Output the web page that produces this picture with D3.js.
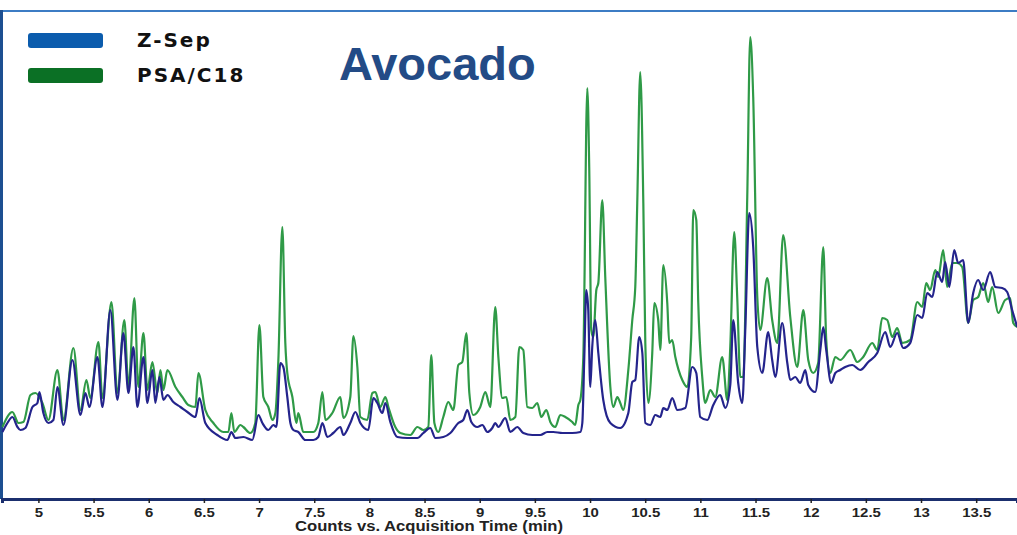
<!DOCTYPE html>
<html>
<head>
<meta charset="utf-8">
<script src="https://cdn.jsdelivr.net/npm/d3@7"></script>
<style>
  body { margin: 0; background: #fff; }
  svg { display: block; }
</style>
</head>
<body>
<svg width="1017" height="535"></svg>
<script>
// Data (retention time in min, counts)
var zsepTime = [4.674,4.719,4.764,4.810,4.837,4.882,4.946,4.991,5.009,5.045,5.091,5.136,5.172,5.227,5.308,5.381,5.426,5.462,5.535,5.580,5.652,5.716,5.770,5.816,5.861,5.897,5.952,5.988,6.033,6.060,6.097,6.133,6.169,6.223,6.287,6.350,6.423,6.459,6.513,6.622,6.713,6.749,6.785,6.858,6.939,6.994,7.030,7.084,7.130,7.157,7.193,7.220,7.256,7.284,7.311,7.356,7.420,7.492,7.537,7.574,7.619,7.673,7.737,7.764,7.827,7.873,7.918,7.990,8.036,8.072,8.117,8.145,8.190,8.253,8.344,8.435,8.489,8.552,8.598,8.670,8.734,8.806,8.851,8.888,8.924,8.978,9.024,9.069,9.114,9.141,9.169,9.232,9.277,9.341,9.395,9.477,9.549,9.613,9.667,9.749,9.839,9.912,9.930,9.948,9.966,9.984,10.002,10.020,10.047,10.075,10.120,10.184,10.274,10.347,10.383,10.410,10.446,10.474,10.501,10.546,10.591,10.637,10.664,10.700,10.745,10.791,10.863,10.927,10.963,10.999,11.063,11.117,11.180,11.226,11.271,11.298,11.343,11.380,11.407,11.443,11.479,11.516,11.561,11.615,11.651,11.679,11.742,11.788,11.815,11.860,11.905,11.951,11.978,12.041,12.087,12.114,12.141,12.186,12.223,12.268,12.313,12.377,12.449,12.522,12.603,12.676,12.721,12.784,12.839,12.902,12.966,13.011,13.056,13.102,13.147,13.192,13.219,13.256,13.301,13.337,13.382,13.428,13.473,13.518,13.564,13.627,13.673,13.736,13.781,13.826,13.872];
var zsepCounts = [65,74,80,70,67,69,90,94,105,84,74,77,110,72,137,82,104,90,140,90,187,97,164,104,150,90,140,94,127,94,120,97,102,95,90,85,80,99,74,62,57,65,59,60,57,82,74,67,72,70,134,130,100,74,67,65,57,57,60,74,60,64,70,62,74,85,74,67,99,94,84,94,75,60,59,59,64,69,59,60,64,74,77,87,75,70,72,65,69,74,70,79,65,70,64,62,62,65,65,64,64,65,74,140,207,187,110,150,177,144,97,74,69,84,115,117,160,144,74,72,82,80,89,87,99,87,89,130,124,80,77,92,102,89,112,177,114,94,167,284,250,150,124,165,137,120,174,134,117,120,114,127,112,105,147,170,147,114,124,127,130,132,127,135,144,165,150,164,149,154,182,179,204,200,225,215,235,210,247,234,237,174,204,217,207,225,210,209,205,187,170];

var psaTime = [4.674,4.764,4.819,4.864,4.928,4.973,5.036,5.091,5.172,5.227,5.317,5.381,5.435,5.471,5.544,5.580,5.662,5.716,5.779,5.816,5.870,5.906,5.952,5.988,6.033,6.078,6.106,6.133,6.169,6.242,6.305,6.359,6.423,6.450,6.513,6.586,6.676,6.722,6.749,6.776,6.831,6.858,6.921,6.966,7.003,7.039,7.084,7.121,7.148,7.175,7.211,7.238,7.256,7.302,7.338,7.356,7.401,7.492,7.537,7.574,7.601,7.664,7.737,7.764,7.827,7.855,7.891,7.918,7.981,8.027,8.054,8.099,8.145,8.172,8.235,8.280,8.371,8.435,8.489,8.534,8.561,8.589,8.625,8.670,8.715,8.761,8.806,8.842,8.879,8.906,8.942,9.005,9.051,9.096,9.141,9.169,9.205,9.241,9.277,9.323,9.359,9.395,9.431,9.477,9.522,9.558,9.604,9.640,9.685,9.730,9.776,9.839,9.866,9.894,9.912,9.939,9.975,9.993,10.011,10.029,10.057,10.075,10.111,10.138,10.184,10.211,10.247,10.274,10.301,10.347,10.383,10.410,10.428,10.455,10.483,10.501,10.528,10.564,10.582,10.618,10.637,10.664,10.700,10.718,10.745,10.773,10.836,10.881,10.917,10.936,10.963,10.981,11.017,11.044,11.090,11.135,11.198,11.244,11.271,11.307,11.334,11.362,11.389,11.425,11.452,11.479,11.516,11.543,11.606,11.651,11.697,11.751,11.815,11.878,11.933,11.978,12.023,12.068,12.114,12.141,12.177,12.223,12.268,12.359,12.422,12.476,12.558,12.603,12.648,12.694,12.739,12.784,12.830,12.902,12.966,13.011,13.047,13.083,13.129,13.156,13.201,13.237,13.283,13.328,13.373,13.428,13.473,13.518,13.564,13.609,13.645,13.700,13.763,13.808,13.836,13.872];
var psaCounts = [70,85,74,75,102,104,94,77,127,77,149,87,117,99,155,99,195,104,177,110,199,110,164,107,135,104,127,107,127,110,100,92,90,124,87,74,65,65,84,65,72,70,64,74,172,100,90,77,84,137,270,154,124,100,74,84,65,65,74,105,77,84,100,79,100,161,130,80,77,104,105,90,100,90,70,64,62,70,67,70,142,74,65,80,95,87,132,135,164,104,82,90,105,90,190,140,99,100,77,80,150,147,90,89,94,80,87,75,70,82,80,75,72,92,97,140,409,327,167,160,207,214,297,220,110,90,100,94,87,127,177,210,294,425,294,154,94,144,194,177,147,232,194,154,157,140,117,110,160,287,277,194,120,94,107,100,140,97,150,265,200,120,120,300,460,400,200,167,219,177,154,262,180,130,187,137,124,134,250,157,124,140,137,147,135,140,154,147,179,177,160,169,154,157,195,190,214,207,227,220,247,210,234,234,230,174,197,200,214,195,210,184,197,199,174,170];

var xTicks = [5, 5.5, 6, 6.5, 7, 7.5, 8, 8.5, 9, 9.5, 10, 10.5, 11, 11.5, 12, 12.5, 13, 13.5];
var seriesNames = ["Z-Sep", "PSA/C18"];

var svg = d3.select("svg");

var x = d3.scaleLinear().domain([4.67, 13.87]).range([2, 1017]);
var y = d3.scaleLinear().domain([0, 487]).range([497, 10]);

// frame
svg.append("line").attr("x1", 0).attr("x2", 1017).attr("y1", 11).attr("y2", 11)
    .attr("stroke", "#3c7cc4").attr("stroke-width", 2);
svg.append("line").attr("x1", 1.5).attr("x2", 1.5).attr("y1", 10).attr("y2", 499)
    .attr("stroke", "#1d4f91").attr("stroke-width", 3);

// traces
function pts(t, c) { return t.map(function(d, i) { return [d, c[i]]; }); }

var line = d3.line()
    .x(function(d) { return x(d[0]); })
    .y(function(d) { return y(d[1]); })
    .curve(d3.curveMonotoneX);

svg.append("path").datum(pts(psaTime, psaCounts))
    .attr("d", line).attr("fill", "none")
    .attr("stroke", "#2f9a47").attr("stroke-width", 2.2).attr("stroke-linejoin", "round");

svg.append("path").datum(pts(zsepTime, zsepCounts))
    .attr("d", line).attr("fill", "none")
    .attr("stroke", "#24248c").attr("stroke-width", 2.2).attr("stroke-linejoin", "round");

// x axis
var axis = svg.append("g").attr("transform", "translate(0,499)")
    .call(d3.axisBottom(x).tickValues(xTicks).tickFormat(function(d) { return String(d); })
        .tickSize(4).tickPadding(5));
axis.select(".domain").attr("stroke", "#1b2f6e").attr("stroke-width", 3);
axis.selectAll(".tick line").attr("stroke", "#222").attr("stroke-width", 1.5);
axis.selectAll(".tick text")
    .attr("font-family", "Liberation Sans, Arial, sans-serif")
    .attr("font-size", 13).attr("font-weight", "bold").attr("fill", "#222")
    .attr("transform", "scale(1.15,1)");

svg.append("text")
    .attr("x", 295).attr("y", 531)
    .attr("textLength", 268).attr("lengthAdjust", "spacingAndGlyphs")
    .attr("font-family", "Liberation Sans, Arial, sans-serif")
    .attr("font-size", 14).attr("font-weight", "bold").attr("fill", "#222")
    .text("Counts vs. Acquisition Time (min)");

// legend
var legendColors = ["#0b5cad", "#0b7025"];
var legend = svg.selectAll("g.legend").data(seriesNames).enter().append("g")
    .attr("class", "legend")
    .attr("transform", function(d, i) { return "translate(28," + (33 + i * 35) + ")"; });
legend.append("rect").attr("width", 75).attr("height", 15).attr("rx", 3)
    .attr("fill", function(d, i) { return legendColors[i]; });
legend.append("text").attr("x", 109).attr("y", 14)
    .attr("font-family", "DejaVu Sans, Verdana, sans-serif")
    .attr("font-size", 20).attr("font-weight", "bold").attr("fill", "#111")
    .attr("letter-spacing", 2)
    .text(function(d) { return d; });

// title
svg.append("text")
    .attr("x", 339).attr("y", 80)
    .attr("font-family", "Liberation Sans, Arial, sans-serif")
    .attr("font-size", 47).attr("font-weight", "bold").attr("fill", "#234b86")
    .text("Avocado");
</script>
</body>
</html>
